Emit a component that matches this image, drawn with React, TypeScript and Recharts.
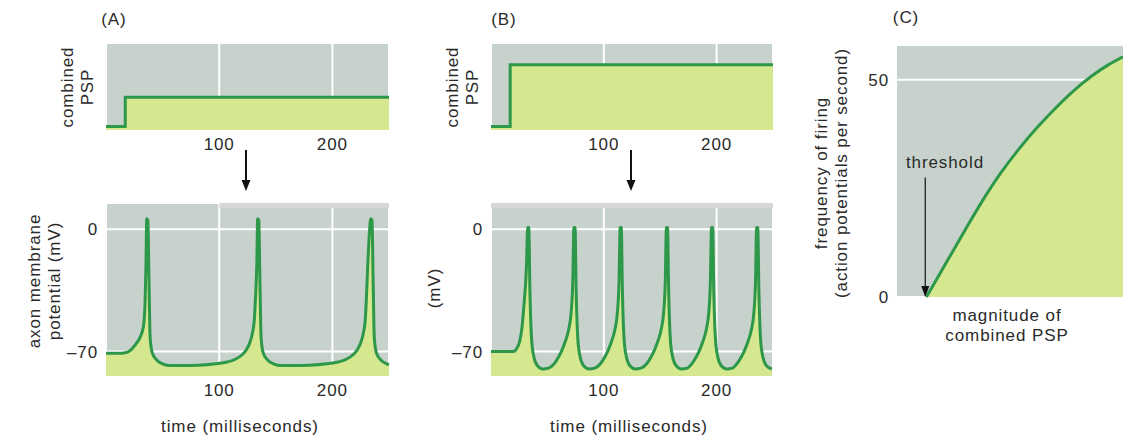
import React from "react";
import {
  AreaChart,
  Area,
  XAxis,
  YAxis,
  CartesianGrid,
  ReferenceArea,
  ReferenceLine,
  ReferenceDot,
} from "recharts";

// ---- data ----
const timeTicks = [100, 200];
const mvTicks = [-70, 0];
const rateTicks = [0, 50];

// combined PSP step (arbitrary units, 0..1)
const pspTime = [0, 17, 250];
const pspWeak = [0.04, 0.38, 0.38];
const pspStrong = [0.04, 0.76, 0.76];

// (A) weak PSP: three action potentials
const traceATime = [
  0, 10, 18, 22, 26, 30, 33, 34.5, 35.3, 36, 37, 38, 39, 41, 45, 50, 57, 67, 82, 97,
  107, 114, 120, 124, 127, 129.5, 131, 132, 133.2, 134, 135, 136, 137, 139, 143, 148,
  155, 165, 180, 195, 205, 212, 218, 222, 225, 227.5, 229, 230, 231.2, 234, 235, 236,
  237, 239, 243, 248, 250,
];
const traceAmV = [
  -71, -71, -70.5, -69, -66, -62, -56, -42, -21, 6, 5, -30, -62, -71, -75, -77, -78, -78,
  -77.8, -77, -76, -74.5, -72, -69, -65, -59, -52, -40, -21, 6, 5, -30, -62, -71, -75,
  -77, -78, -78, -77.8, -77, -76, -74.5, -72, -69, -65, -59, -52, -40, -21, 6, 5, -30,
  -62, -71, -75, -77, -77.5,
];

// (B) strong PSP: six action potentials
const traceBTime = [
  0, 20, 23, 25.5, 27.5, 29, 31.5, 32.5, 33.5, 34.5, 36, 38, 41, 46, 51, 56, 60, 63, 66,
  69, 71, 72.5, 73.5, 74.5, 75.5, 77, 79, 82, 87, 92, 97, 101, 104, 107, 110, 112, 113.5,
  114.5, 115.5, 116.5, 118, 120, 123, 128, 133, 138, 142, 145, 148, 151, 153, 154.5,
  155.5, 156.5, 157.5, 159, 161, 164, 169, 174, 178, 182, 185, 188, 191, 193, 194.5,
  195.5, 196.5, 197.5, 199, 201, 204, 209, 214, 218, 222, 225, 228, 231, 233, 234.5,
  235.5, 236.5, 237.5, 239, 241, 244, 249,
];
const traceBmV = [
  -70, -70, -68, -64, -56, -45, -20, 1, 1, -35, -63, -73, -78, -80, -79.5, -77, -73, -69,
  -64, -57, -48, -30, 1, 1, -35, -63, -73, -78, -80, -79.5, -77, -73, -69, -64, -57, -48,
  -30, 1, 1, -35, -63, -73, -78, -80, -79.5, -77, -73, -69, -64, -57, -48, -30, 1, 1,
  -35, -63, -73, -78, -80, -79.5, -77, -73, -69, -64, -57, -48, -30, 1, 1, -35, -63, -73,
  -78, -80, -79.5, -77, -73, -69, -64, -57, -48, -30, 1, 1, -35, -63, -73, -78, -80,
];

// (C) firing frequency vs PSP magnitude
const pspMagnitude = [13, 22, 30, 38, 46, 54, 62, 70, 78, 86, 94, 100];
const firingRate = [0, 8.1, 15.3, 22.3, 28.6, 34.1, 39.0, 43.4, 47.4, 50.8, 53.6, 55.3];
const thresholdAt = 12.5;

const pspRows = pspTime.map((t, i) => ({ t, weak: pspWeak[i], strong: pspStrong[i] }));
const rowsA = traceATime.map((t, i) => ({ t, mv: traceAmV[i] }));
const rowsB = traceBTime.map((t, i) => ({ t, mv: traceBmV[i] }));
const rowsC = pspMagnitude.map((m, i) => ({ m, rate: firingRate[i] }));

// ---- style ----
const BG = "#c7d2cc";
const FILL = "#d5e78f";
const LINE = "#2d984a";
const TEXT = "#2a2a2a";
const FONT = "'Liberation Sans', Arial, sans-serif";
const tick = { fill: TEXT, fontSize: 17, fontFamily: FONT, letterSpacing: 0.9 };
const fmtMv = (v: number) => (v < 0 ? "\u2013" + Math.abs(v) : String(v));

function Txt({
  x,
  y,
  rotate,
  children,
}: {
  x: number;
  y: number;
  rotate?: boolean;
  children: React.ReactNode;
}) {
  return (
    <div
      style={{
        position: "absolute",
        left: x,
        top: y,
        transform: `translate(-50%, -50%)${rotate ? " rotate(-90deg)" : ""}`,
        whiteSpace: "nowrap",
        textAlign: "center",
        fontFamily: FONT,
        fontSize: 17,
        letterSpacing: 0.9,
        lineHeight: "20px",
        color: TEXT,
      }}
    >
      {children}
    </div>
  );
}

function PspPanel({ left, dataKey }: { left: number; dataKey: string }) {
  return (
    <div style={{ position: "absolute", left, top: 0 }}>
      <AreaChart
        width={400}
        height={170}
        data={pspRows}
        margin={{ top: 44, right: left === 0 ? 11 : 12, bottom: 0, left: 106 }}
      >
        <CartesianGrid fill={BG} fillOpacity={1} stroke="#ffffff" strokeWidth={2} horizontal={false} />
        <XAxis
          dataKey="t"
          type="number"
          domain={[0, 250]}
          ticks={timeTicks}
          height={40}
          axisLine={false}
          tickLine={false}
          tick={tick}
        />
        <YAxis type="number" domain={[0, 1]} hide />
        <Area
          dataKey={dataKey}
          type="stepAfter"
          stroke={LINE}
          strokeWidth={3}
          fill={FILL}
          fillOpacity={1}
          baseValue="dataMin"
          dot={false}
          activeDot={false}
          isAnimationActive={false}
        />
      </AreaChart>
    </div>
  );
}

function TracePanel({
  left,
  rows,
  stripFrom,
}: {
  left: number;
  rows: { t: number; mv: number }[];
  stripFrom: number;
}) {
  return (
    <div style={{ position: "absolute", left, top: 190 }}>
      <AreaChart
        width={400}
        height={248}
        data={rows}
        margin={{ top: 13, right: left === 0 ? 11 : 12, bottom: 0, left: 0 }}
      >
        <CartesianGrid fill={BG} fillOpacity={1} stroke="#ffffff" strokeWidth={2} />
        <ReferenceArea x1={stripFrom} x2={250} y1={12} y2={15} fill="#d6d8d6" fillOpacity={1} stroke="none" />
        <XAxis
          dataKey="t"
          type="number"
          domain={[0, 250]}
          ticks={timeTicks}
          height={62}
          axisLine={false}
          tickLine={false}
          tick={tick}
        />
        <YAxis
          type="number"
          domain={[-84, 15]}
          ticks={mvTicks}
          width={106}
          axisLine={false}
          tickLine={false}
          tick={tick}
          tickFormatter={fmtMv}
        />
        <Area
          dataKey="mv"
          type="monotone"
          stroke={LINE}
          strokeWidth={3}
          fill={FILL}
          fillOpacity={1}
          baseValue="dataMin"
          dot={false}
          activeDot={false}
          isAnimationActive={false}
        />
      </AreaChart>
    </div>
  );
}

export default function App() {
  return (
    <div
      style={{
        position: "absolute",
        left: 0,
        top: 0,
        width: 1123,
        height: 438,
        background: "#ffffff",
        overflow: "hidden",
      }}
    >
      <PspPanel left={0} dataKey="weak" />
      <PspPanel left={385} dataKey="strong" />
      <TracePanel left={0} rows={rowsA} stripFrom={100} />
      <TracePanel left={385} rows={rowsB} stripFrom={0} />

      <div style={{ position: "absolute", left: 780, top: 0 }}>
        <AreaChart
          width={343}
          height={438}
          data={rowsC}
          margin={{ top: 45, right: 0, bottom: 141, left: 0 }}
        >
          <CartesianGrid fill={BG} fillOpacity={1} stroke="#ffffff" strokeWidth={2} vertical={false} />
          <XAxis dataKey="m" type="number" domain={[0, 100]} hide />
          <YAxis
            type="number"
            domain={[0, 58]}
            ticks={rateTicks}
            width={117}
            axisLine={false}
            tickLine={false}
            tick={tick}
          />
          <Area
            dataKey="rate"
            type="monotone"
            stroke={LINE}
            strokeWidth={3}
            fill={FILL}
            fillOpacity={1}
            baseValue="dataMin"
            dot={false}
            activeDot={false}
            isAnimationActive={false}
          />
          <ReferenceLine
            segment={[
              { x: thresholdAt, y: 27.5 },
              { x: thresholdAt, y: 2.3 },
            ]}
            stroke="#111111"
            strokeWidth={1.2}
          />
          <ReferenceDot
            x={thresholdAt}
            y={0}
            r={0}
            shape={(p: any) => (
              <path
                d={`M${p.cx - 4},${p.cy - 11} L${p.cx + 4},${p.cy - 11} L${p.cx},${p.cy} Z`}
                fill="#111111"
              />
            )}
          />
        </AreaChart>
      </div>

      {/* arrows between the PSP and membrane-potential panels */}
      <svg
        width={1123}
        height={438}
        style={{ position: "absolute", left: 0, top: 0, pointerEvents: "none" }}
      >
        <line x1={246} y1={150} x2={246} y2={181} stroke="#111111" strokeWidth={2} />
        <path d="M241.5,180 L250.5,180 L246,191 Z" fill="#111111" />
        <line x1={631} y1={150} x2={631} y2={181} stroke="#111111" strokeWidth={2} />
        <path d="M626.5,180 L635.5,180 L631,191 Z" fill="#111111" />
      </svg>

      <Txt x={114} y={20}>(A)</Txt>
      <Txt x={504} y={20}>(B)</Txt>
      <Txt x={906} y={18}>(C)</Txt>

      <Txt x={78} y={87} rotate>
        combined
        <br />
        PSP
      </Txt>
      <Txt x={463} y={87} rotate>
        combined
        <br />
        PSP
      </Txt>
      <Txt x={45} y={281} rotate>
        axon membrane
        <br />
        potential (mV)
      </Txt>
      <Txt x={435} y={288} rotate>
        (mV)
      </Txt>
      <Txt x={240} y={427}>time (milliseconds)</Txt>
      <Txt x={629} y={427}>time (milliseconds)</Txt>

      <Txt x={832} y={173} rotate>
        frequency of firing
        <br />
        (action potentials per second)
      </Txt>
      <Txt x={945} y={163}>threshold</Txt>
      <Txt x={1007} y={326}>
        magnitude of
        <br />
        combined PSP
      </Txt>
    </div>
  );
}
